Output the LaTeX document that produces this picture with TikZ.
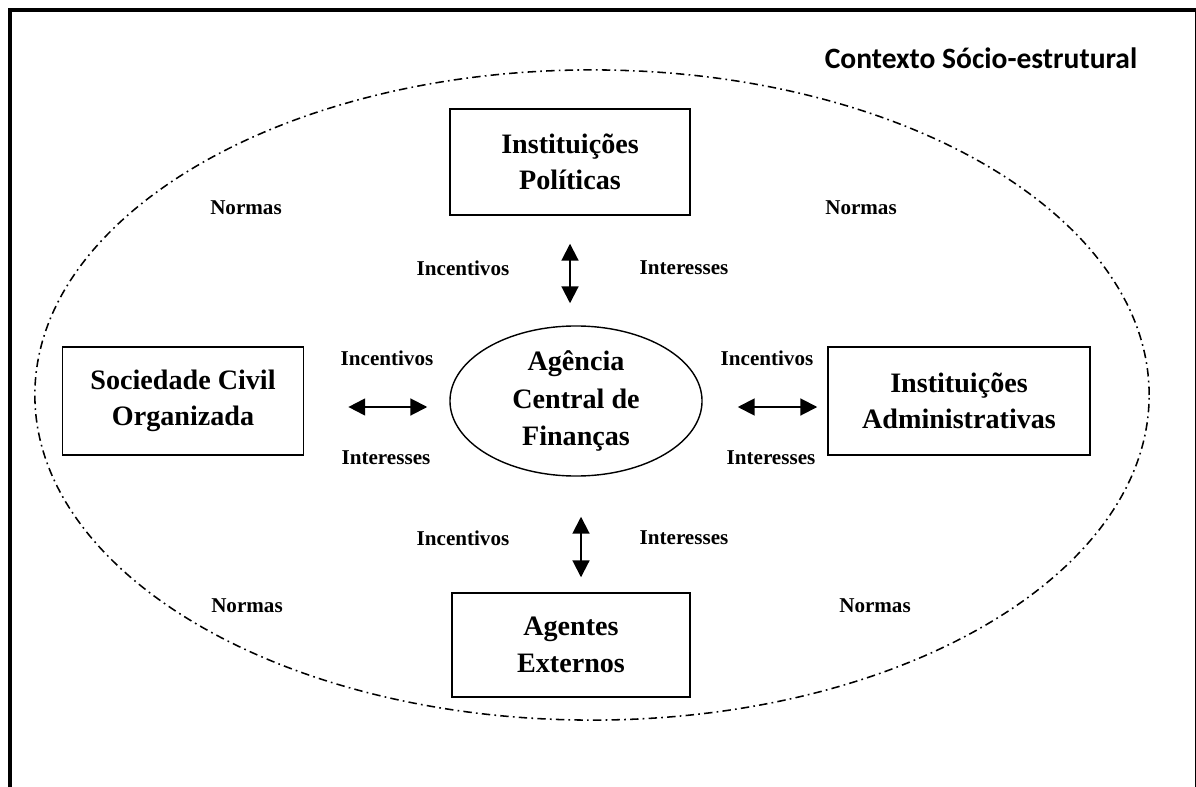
\documentclass[tikz,border=0pt]{standalone}
\usepackage{fontspec}
\setmainfont{Liberation Serif}
\newfontfamily\ctxfont{Carlito}
\usetikzlibrary{shapes.geometric,arrows.meta}
\tikzset{
  box/.style={draw, line width=1pt, minimum height=2.65cm, align=center,
              font=\fontsize{20}{26}\selectfont\bfseries, inner sep=0pt},
  hub/.style={draw, ellipse, line width=1pt, minimum width=6.3cm, minimum height=3.75cm,
              align=center, font=\fontsize{20}{26.5}\selectfont\bfseries, inner sep=0pt},
  lbl/.style={font=\fontsize{15}{18}\selectfont\bfseries},
  biarrow/.style={{Triangle[length=4.2mm,width=4.2mm]}-{Triangle[length=4.2mm,width=4.2mm]},
                  line width=1.4pt},
  ctxline/.style={line width=1.1pt, dash pattern=on 6pt off 3pt on 1.2pt off 3pt},
}
\begin{document}
\begin{tikzpicture}[x=0.025cm, y=-0.025cm]
    \useasboundingbox (0,0) rectangle (1196,787);
    % frame
    \draw[line width=2.2pt] (10,787) -- (10,10) -- (1196,10);
    \draw[line width=0.7pt] (1195,10) -- (1195,787);
    \node[font=\ctxfont\fontsize{21}{25}\selectfont\bfseries] (ctx) at (981,58) {Contexto Sócio-estrutural};
    \draw[ctxline] (592,395) ellipse [x radius=13.925cm, y radius=8.125cm];

    \node[hub] (acf) at (576,401) {Agência\\Central de\\Finanças};
    \node[box, minimum width=6cm] (pol) at (570,162) {Instituições\\Políticas};
    \node[box, minimum width=6.03cm, minimum height=2.7cm] (soc) at (183,401) {Sociedade Civil\\Organizada};
    \node[box, minimum width=6.55cm, minimum height=2.7cm] (adm) at (959,401) {Instituições\\Administrativas};
    \node[box, minimum width=5.95cm, minimum height=2.6cm] (ext) at (571,645) {Agentes\\Externos};

    \draw[biarrow, shorten <=0.7cm, shorten >=0.55cm] (pol.south) -- (pol.south |- acf.north);
    \draw[biarrow, shorten <=0.375cm, shorten >=1cm] ([xshift=0.25cm]ext.north) -- ([xshift=0.25cm]ext.north |- acf.south);
    \draw[biarrow, shorten <=1.1cm, shorten >=0.55cm] ([yshift=-0.15cm]soc.east) -- ([yshift=-0.15cm]soc.east -| acf.west);
    \draw[biarrow, shorten <=0.25cm, shorten >=0.875cm] ([yshift=-0.15cm]adm.west) -- ([yshift=-0.15cm]adm.west -| acf.east);

    \node[lbl] (n1) at (246,208) {Normas};
    \node[lbl] (n2) at (861,208) {Normas};
    \node[lbl] (n3) at (247,606) {Normas};
    \node[lbl] (n4) at (875,606) {Normas};

    \node[lbl] (inc1) at (463,268) {Incentivos};
    \node[lbl] (int1) at (684,268) {Interesses};
    \node[lbl] (inc2) at (387,358) {Incentivos};
    \node[lbl] (int2) at (386,458) {Interesses};
    \node[lbl] (inc3) at (767,358) {Incentivos};
    \node[lbl] (int3) at (771,458) {Interesses};
    \node[lbl] (inc4) at (463,538) {Incentivos};
    \node[lbl] (int4) at (684,538) {Interesses};
  \end{tikzpicture}
\end{document}
